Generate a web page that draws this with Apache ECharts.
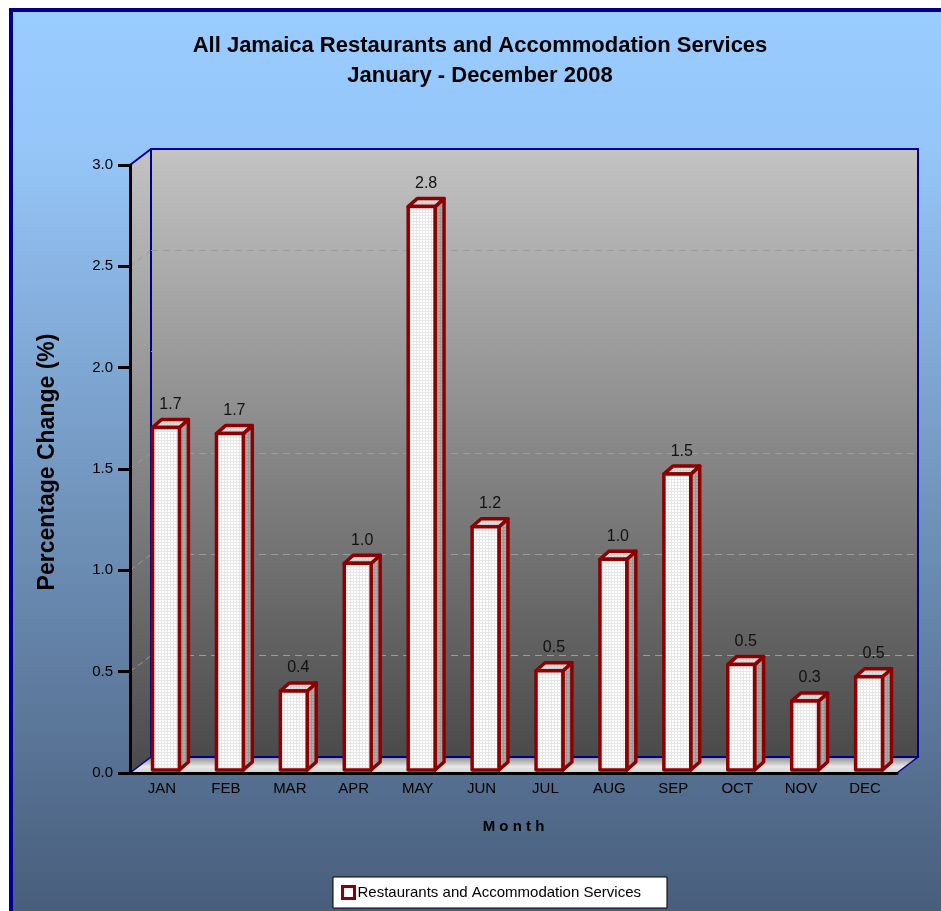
<!DOCTYPE html>
<html>
<head>
<meta charset="utf-8">
<script src="https://cdn.jsdelivr.net/npm/echarts@6/dist/echarts.min.js"></script>
<style>
  html, body { margin: 0; padding: 0; background: #fff; }
  #main { width: 941px; height: 911px; }
</style>
</head>
<body>
<div id="main"></div>
<script>
// data
const months = ['JAN', 'FEB', 'MAR', 'APR', 'MAY', 'JUN', 'JUL', 'AUG', 'SEP', 'OCT', 'NOV', 'DEC'];
const values = [1.69, 1.66, 0.39, 1.02, 2.78, 1.20, 0.49, 1.04, 1.46, 0.52, 0.34, 0.46];
const seriesName = 'Restaurants and Accommodation Services';
const yMin = 0, yMax = 3, yStep = 0.5;

// plot box geometry (front axis plane and back wall)
const front = { left: 130, top: 165, width: 767, height: 608 };
const back = { left: 151, top: 149, width: 767, height: 608 };
const navy = '#00008f';
const barRed = '#8e0000';

// small grid pattern like the excel fill
function pattern(bg, line) {
  let c = document.createElement('canvas');
  c.width = 3; c.height = 3;
  let g = c.getContext('2d');
  g.fillStyle = bg; g.fillRect(0, 0, 3, 3);
  g.fillStyle = line; g.fillRect(0, 2, 3, 1); g.fillRect(2, 0, 1, 3);
  return { image: c, repeat: 'repeat' };
}
const frontFill = pattern('#ffffff', '#e6e6e6');
const sideFill = pattern('#acacac', '#9a9a9a');
const topFill = pattern('#dedede', '#cfcfcf');

function wallGradient() {
  return new echarts.graphic.LinearGradient(0, 0, 0, 1, [
    { offset: 0, color: '#c3c3c3' },
    { offset: 1, color: '#4a4a4a' }
  ]);
}

// dashed grid lines on the left wall
let sideLines = [];
for (let v = yMin + yStep; v < yMax; v += yStep) {
  let yf = front.top + front.height * (1 - v / yMax);
  let yb = back.top + back.height * (1 - v / yMax);
  sideLines.push({
    type: 'line', z: -4,
    shape: { x1: front.left, y1: yf, x2: back.left, y2: yb },
    style: { stroke: '#9a9a9a', lineWidth: 1, lineDash: [6, 4] }
  });
}

let chart = echarts.init(document.getElementById('main'));

let option = {
  backgroundColor: '#ffffff',
  animation: false,
  title: {
    text: 'All Jamaica Restaurants and Accommodation Services\nJanuary - December 2008',
    left: 475,
    top: 26,
    textAlign: 'center',
    textStyle: { fontFamily: 'Liberation Sans, Arial', fontSize: 22, fontWeight: 'bold', color: '#000', lineHeight: 30 }
  },
  legend: {
    data: [{ name: seriesName, icon: 'rect', itemStyle: { color: '#fff', borderColor: barRed, borderWidth: 3 } }],
    left: 333,
    top: 877,
    itemWidth: 12,
    itemHeight: 12,
    itemGap: 4,
    padding: [8, 26, 8, 8],
    backgroundColor: '#fff',
    borderColor: '#000',
    borderWidth: 1,
    textStyle: { fontFamily: 'Liberation Sans, Arial', fontSize: 15, color: '#000', padding: [0, 0, 0, -2] }
  },
  graphic: [
    { // outer chart area
      type: 'rect', z: -10,
      shape: { x: 11, y: 10, width: 940, height: 910 },
      style: {
        fill: new echarts.graphic.LinearGradient(0, 0, 0, 1, [
          { offset: 0, color: '#99ccff' },
          { offset: 0.15, color: '#96c6f9' },
          { offset: 0.55, color: '#7093bb' },
          { offset: 1, color: '#475c7a' }
        ]),
        stroke: navy, lineWidth: 4
      }
    },
    { // back wall
      type: 'rect', z: -5,
      shape: { x: back.left, y: back.top, width: back.width, height: back.height },
      style: { fill: wallGradient() }
    },
    { // left wall
      type: 'polygon', z: -5,
      shape: { points: [[front.left, front.top], [back.left, back.top], [back.left, back.top + back.height], [front.left, front.top + front.height]] },
      style: { fill: wallGradient() }
    },
    { // floor
      type: 'polygon', z: -5,
      shape: { points: [[front.left, front.top + front.height], [back.left, back.top + back.height], [back.left + back.width, back.top + back.height], [front.left + front.width, front.top + front.height]] },
      style: {
        fill: new echarts.graphic.LinearGradient(0, 0, 0, 1, [
          { offset: 0, color: '#8c8c8c' },
          { offset: 0.6, color: '#e8e8e8' },
          { offset: 1, color: '#d0d0d0' }
        ])
      }
    },
    ...sideLines,
    { // blue edges
      type: 'rect', z: -3,
      shape: { x: back.left, y: back.top, width: back.width, height: back.height },
      style: { fill: null, stroke: navy, lineWidth: 2 }
    },
    { type: 'line', z: -3, shape: { x1: front.left, y1: front.top, x2: back.left, y2: back.top }, style: { stroke: navy, lineWidth: 2 } },
    { type: 'line', z: -3, shape: { x1: front.left, y1: front.top + front.height, x2: back.left, y2: back.top + back.height }, style: { stroke: navy, lineWidth: 1.5 } },
    { type: 'line', z: -3, shape: { x1: front.left + front.width, y1: front.top + front.height, x2: back.left + back.width, y2: back.top + back.height }, style: { stroke: navy, lineWidth: 1.5 } }
  ],
  grid: [
    { left: back.left, top: back.top, width: back.width, height: back.height, containLabel: false },
    { left: front.left, top: front.top, width: front.width, height: front.height, containLabel: false }
  ],
  xAxis: [
    { type: 'category', gridIndex: 0, data: months, show: false },
    {
      type: 'category', gridIndex: 1, data: months,
      z: 3,
      axisLine: { lineStyle: { color: '#000', width: 3 } },
      axisTick: { show: false },
      axisLabel: { color: '#000', fontSize: 15, fontFamily: 'Liberation Sans, Arial', margin: 8 },
      name: 'M o n t h',
      nameLocation: 'middle',
      nameGap: 46,
      nameTextStyle: { color: '#000', fontSize: 15, fontWeight: 'bold', fontFamily: 'Liberation Sans, Arial' }
    }
  ],
  yAxis: [
    {
      type: 'value', gridIndex: 0, min: yMin, max: yMax, interval: yStep,
      axisLine: { show: false }, axisTick: { show: false }, axisLabel: { show: false },
      splitLine: { showMinLine: false, showMaxLine: false, lineStyle: { color: '#9c9c9c', type: [7, 5], width: 1 } }
    },
    {
      type: 'value', gridIndex: 1, min: yMin, max: yMax, interval: yStep,
      z: 3,
      axisLine: { show: true, lineStyle: { color: '#000', width: 3 } },
      axisTick: { show: true, length: 12, lineStyle: { color: '#000', width: 3 } },
      axisLabel: { color: '#000', fontSize: 15, fontFamily: 'Liberation Sans, Arial', margin: 17, formatter: v => v.toFixed(1) },
      splitLine: { show: false },
      name: 'Percentage Change (%)',
      nameLocation: 'middle',
      nameRotate: 90,
      nameGap: 71,
      nameTextStyle: { color: '#000', fontSize: 23, fontWeight: 'bold', fontFamily: 'Liberation Sans, Arial', padding: [0, 0, 0, 14] }
    }
  ],
  series: [{
    name: seriesName,
    type: 'custom',
    xAxisIndex: 1,
    yAxisIndex: 1,
    z: 5,
    itemStyle: { color: '#fff', borderColor: barRed },
    data: values.map((v, i) => [i, v]),
    renderItem: function (params, api) {
      let i = api.value(0);
      let v = api.value(1);
      let b = api.coord([i, 0]);
      let t = api.coord([i, v]);
      let bw = api.size([1, 0])[0] * 0.42;
      let x0 = b[0] - bw / 2 + 4;
      let x1 = x0 + bw;
      let yb = b[1] - 3;
      let yt = t[1] - 3;
      let dx = 9, dy = -8;
      let line = { stroke: barRed, lineWidth: 3.5, lineJoin: 'round' };
      return {
        type: 'group',
        children: [
          { type: 'polygon', shape: { points: [[x1, yt], [x1 + dx, yt + dy], [x1 + dx, yb + dy], [x1, yb]] }, style: Object.assign({ fill: sideFill }, line) },
          { type: 'polygon', shape: { points: [[x0, yt], [x0 + dx, yt + dy], [x1 + dx, yt + dy], [x1, yt]] }, style: Object.assign({ fill: topFill }, line) },
          { type: 'rect', shape: { x: x0, y: yt, width: bw, height: yb - yt }, style: Object.assign({ fill: frontFill }, line) },
          {
            type: 'text',
            style: {
              x: (x0 + x1 + dx) / 2, y: yt + dy - 15,
              text: v.toFixed(1), align: 'center', verticalAlign: 'middle',
              fill: '#111', font: '16px "Liberation Sans", Arial'
            }
          }
        ]
      };
    }
  }]
};

chart.setOption(option);
</script>
</body>
</html>
